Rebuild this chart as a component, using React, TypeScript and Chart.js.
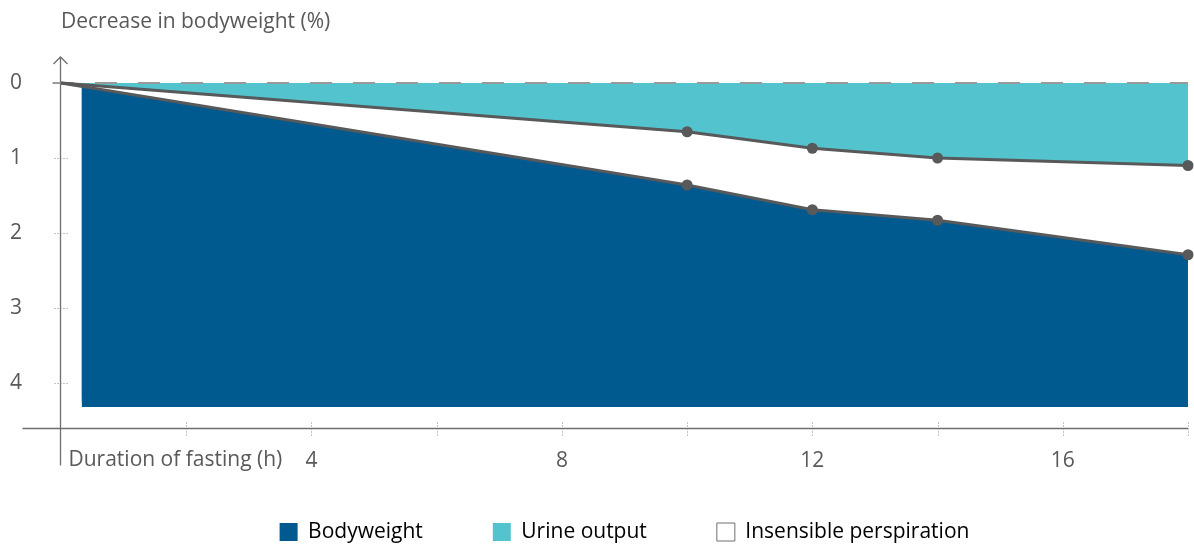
import React, { useEffect, useRef } from 'react';
import { Chart, registerables } from 'chart.js';

Chart.register(...registerables);

// ---- data ----
const fastingHours = [0, 10, 12, 14, 18];
const bodyweightLoss = [0, 1.36, 1.69, 1.83, 2.29];
const urineLoss = [0, 0.65, 0.87, 1.0, 1.1];
const pointRadii = [0, 5.5, 5.5, 5.5, 5.5];
const baselineHours = [0, 18];
const baselineValues = [0, 0];
const blueFloorHours = [0.33, 18];
const blueFloorValues = [4.32, 4.32];
const xAxisMax = 18;
const yAxisMax = 4.6;
const xLabelled = [4, 8, 12, 16];
const yTitle = 'Decrease in bodyweight (%)';
const xTitle = 'Duration of fasting (h)';
const legendNames = ['Bodyweight', 'Urine output', 'Insensible perspiration'];

const BLUE = '#005a8f';
const CYAN = '#53c4cd';
const LINE = '#58595b';
const TEXT = '#58595b';
const AXIS = '#6d6e71';
const FONT = '"Open Sans"';
const FS = 21;

const pts = (xs: number[], ys: number[]) => xs.map((x, i) => ({ x, y: ys[i] }));

const axesPlugin = {
  id: 'customAxes',
  afterLayout(chart: any) {
    // let the x tick labels extend below the (compact) x scale box without being clipped
    const xs = chart.scales.x;
    xs.bottom = xs.top + 60;
    xs.height = 60;
  },
  afterDraw(chart: any) {
    const { ctx, chartArea, scales } = chart;
    const xs = scales.x;
    const ys = scales.y;
    const x0 = Math.round(xs.getPixelForValue(0)) - 0.5;
    const yb = Math.round(chartArea.bottom) + 0.5;
    const yt = ys.getPixelForValue(0);
    ctx.save();
    ctx.strokeStyle = AXIS;
    ctx.lineWidth = 1.3;
    // y axis
    ctx.beginPath();
    ctx.moveTo(x0, yt - 26);
    ctx.lineTo(x0, yb + 37);
    ctx.stroke();
    // arrow
    ctx.beginPath();
    ctx.moveTo(x0 - 7, yt - 19);
    ctx.lineTo(x0, yt - 26);
    ctx.lineTo(x0 + 7, yt - 19);
    ctx.stroke();
    // x axis
    ctx.beginPath();
    ctx.moveTo(x0 - 38, yb);
    ctx.lineTo(xs.getPixelForValue(xAxisMax), yb);
    ctx.stroke();
    // zero tick
    ctx.strokeStyle = '#9a9a9a';
    ctx.lineWidth = 2;
    ctx.beginPath();
    ctx.moveTo(x0 - 8, yt);
    ctx.lineTo(x0, yt);
    ctx.stroke();
    // dotted ticks
    ctx.setLineDash([1, 2]);
    ctx.strokeStyle = '#888';
    ctx.lineWidth = 1;
    for (const t of ys.ticks) {
      if (t.value === 0) continue;
      const py = Math.round(ys.getPixelForValue(t.value)) + 0.5;
      ctx.beginPath();
      ctx.moveTo(x0 - 6, py);
      ctx.lineTo(x0 + 7, py);
      ctx.stroke();
    }
    for (const t of xs.ticks) {
      if (t.value === 0) continue;
      const px = Math.round(xs.getPixelForValue(t.value)) + 0.5;
      ctx.beginPath();
      ctx.moveTo(px, yb - 6);
      ctx.lineTo(px, yb + 7);
      ctx.stroke();
    }
    ctx.setLineDash([]);
    // x axis title on the tick label row
    ctx.fillStyle = TEXT;
    ctx.font = `${FS}px ${FONT}`;
    ctx.textAlign = 'left';
    ctx.textBaseline = 'middle';
    ctx.fillText(xTitle, x0 + 8, yb + 32);
    ctx.restore();
  },
};

export default function App() {
  const ref = useRef<HTMLCanvasElement | null>(null);
  useEffect(() => {
    if (!ref.current) return;
    const chart = new Chart(ref.current, {
      type: 'scatter',
      data: {
        datasets: [
          {
            label: 'urineLine',
            data: pts(fastingHours, urineLoss),
            showLine: true,
            borderColor: LINE,
            borderWidth: 3,
            pointRadius: pointRadii,
            pointBackgroundColor: LINE,
            pointBorderWidth: 0,
            fill: false,
            clip: false,
          },
          {
            label: 'bodyLine',
            data: pts(fastingHours, bodyweightLoss),
            showLine: true,
            borderColor: LINE,
            borderWidth: 3,
            pointRadius: pointRadii,
            pointBackgroundColor: LINE,
            pointBorderWidth: 0,
            fill: false,
            clip: false,
          },
          {
            label: 'baseline',
            data: pts(baselineHours, baselineValues),
            showLine: true,
            borderColor: '#999999',
            borderWidth: 2,
            borderDash: [22, 21],
            borderDashOffset: 9,
            pointRadius: 0,
            fill: false,
            clip: false,
          },
          {
            label: 'urineFill',
            data: pts(fastingHours, urineLoss),
            showLine: true,
            borderWidth: 0,
            borderColor: 'rgba(0,0,0,0)',
            backgroundColor: CYAN,
            pointRadius: 0,
            fill: { value: 0 },
          },
          {
            label: 'bodyFill',
            data: pts(fastingHours, bodyweightLoss),
            showLine: true,
            borderWidth: 0,
            borderColor: 'rgba(0,0,0,0)',
            backgroundColor: BLUE,
            pointRadius: 0,
            fill: 5,
          },
          {
            label: 'bodyFloor',
            data: pts(blueFloorHours, blueFloorValues),
            showLine: true,
            borderWidth: 0,
            borderColor: 'rgba(0,0,0,0)',
            pointRadius: 0,
            fill: false,
          },
        ],
      },
      options: {
        animation: false,
        responsive: false,
        maintainAspectRatio: false,
        events: [],
        layout: { autoPadding: false, padding: { left: 10, right: 6, top: 0, bottom: -7.5 } },
        scales: {
          x: {
            type: 'linear',
            min: 0,
            max: xAxisMax,
            grid: { display: false, drawTicks: false },
            border: { display: false },
            ticks: {
              stepSize: 2,
              autoSkip: false,
              maxRotation: 0,
              padding: 20,
              color: TEXT,
              font: { family: FONT, size: FS },
              callback: (v: any) => (xLabelled.includes(Number(v)) ? String(v) : ''),
            },
            afterFit: (s: any) => {
              s.height = 23.5;
              s.paddingLeft = 0;
              s.paddingRight = 0;
            },
          },
          y: {
            type: 'linear',
            reverse: true,
            min: 0,
            max: yAxisMax,
            grid: { display: false, drawTicks: false },
            border: { display: false },
            ticks: {
              stepSize: 1,
              includeBounds: false,
              crossAlign: 'far',
              color: TEXT,
              font: { family: FONT, size: FS },
            },
            afterFit: (s: any) => {
              s.width = 51;
              s.paddingTop = 0;
              s.paddingBottom = 0;
            },
          },
        },
        plugins: {
          tooltip: { enabled: false },
          title: {
            display: true,
            text: yTitle,
            align: 'start',
            fullSize: false,
            color: TEXT,
            font: { family: FONT, size: FS, weight: 'normal' },
            padding: { top: 9.4, bottom: 48.4 },
          },
          legend: {
            position: 'bottom',
            fullSize: false,
            labels: {
              boxWidth: 18,
              boxHeight: 18,
              padding: 70,
              color: TEXT,
              font: { family: FONT, size: FS },
              generateLabels: () => [
                { text: legendNames[0], fillStyle: BLUE, strokeStyle: BLUE, lineWidth: 0, hidden: false, datasetIndex: 4 },
                { text: legendNames[1], fillStyle: CYAN, strokeStyle: CYAN, lineWidth: 0, hidden: false, datasetIndex: 3 },
                { text: legendNames[2], fillStyle: '#ffffff', strokeStyle: '#6d6e71', lineWidth: 1, hidden: false, datasetIndex: 2 },
              ],
            },
          },
        },
      },
      plugins: [axesPlugin],
    } as any);
    return () => chart.destroy();
  }, []);
  return (
    <div style={{ position: 'fixed', left: 0, top: 0, width: 1194, height: 545, background: '#fff' }}>
      <canvas ref={ref} width={1194} height={545} style={{ width: 1194, height: 545 }} />
    </div>
  );
}
